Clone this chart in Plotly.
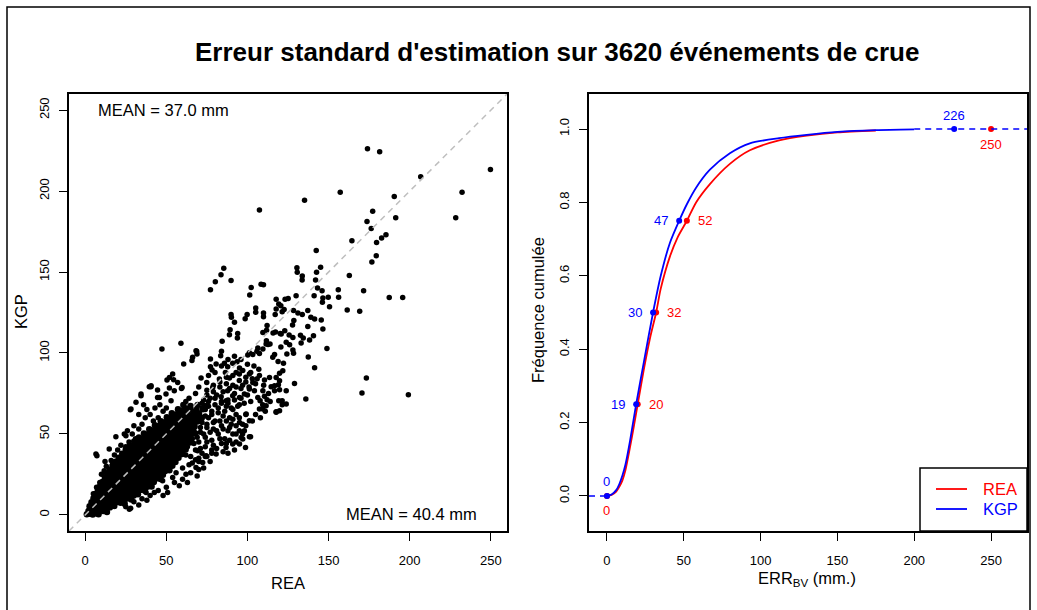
import plotly.graph_objects as go

W, H = 1037, 610
FONT = "Liberation Sans, Arial, sans-serif"

# ---------------- data ----------------
n_events = 3620
mean_kgp = 37.0
mean_rea = 40.4

# scatter (REA, KGP) in mm
scatter_outliers = [
    (174.0, 226.2), (181.5, 224.3), (249.8, 213.4), (206.8, 208.8), (157.2, 199.3),
    (232.3, 199.3), (190.5, 196.7), (135.2, 194.4), (107.4, 188.4), (177.2, 187.6),
    (173.7, 181.2), (191.4, 183.5), (228.4, 183.5), (176.3, 176.9), (164.4, 169.4),
    (185.4, 173.0), (182.7, 171.1), (179.6, 168.2), (142.4, 163.3), (179.4, 160.0),
    (176.7, 156.2), (162.8, 147.8), (171.6, 138.5), (187.4, 134.2), (195.7, 134.2),
    (173.3, 84.5), (170.6, 75.3), (199.2, 74.2), (161.5, 126.6), (169.2, 125.7),
    (156.0, 139.0), (156.2, 134.4), (150.6, 128.6), (149.0, 102.8), (141.4, 90.9),
    (129.0, 81.2), (136.0, 71.5),
]

scatter_mid = [
    (77.2, 139.0), (80.2, 144.0), (83.7, 148.4), (85.4, 152.3), (89.9, 144.7),
    (101.4, 135.8), (102.3, 140.4), (108.4, 142.4), (109.9, 142.2), (105.1, 125.1),
    (109.9, 122.3), (98.6, 121.2), (90.1, 122.0), (92.0, 119.0), (89.3, 114.4),
    (88.9, 111.3), (93.8, 109.3), (84.4, 107.2), (59.0, 106.0), (47.3, 102.5),
    (68.9, 99.4), (65.8, 95.4), (83.5, 98.3), (117.7, 133.2), (119.3, 130.3),
    (123.2, 133.2), (125.1, 133.6), (130.0, 135.4), (133.7, 145.1), (130.5, 152.6),
    (130.7, 149.9), (133.8, 147.6), (142.6, 149.9), (145.1, 152.9), (142.0, 145.1),
    (143.2, 140.2), (141.1, 135.4), (146.5, 134.0), (146.0, 138.5), (149.8, 134.4),
    (146.2, 131.4), (137.2, 126.2), (139.1, 122.0), (141.4, 121.0), (145.5, 120.4),
    (146.5, 114.8), (137.2, 116.3), (140.7, 110.7), (134.4, 109.3), (138.3, 108.0),
    (128.4, 126.3), (131.1, 124.7), (133.8, 123.7), (127.8, 117.3), (125.7, 111.1),
    (128.0, 109.6), (132.7, 110.9), (133.1, 106.2), (137.5, 97.5), (128.4, 99.8),
    (120.6, 103.7), (124.3, 99.4), (120.2, 112.1), (117.3, 113.0), (115.8, 112.4),
    (109.5, 112.6), (111.8, 114.0), (121.4, 125.4), (122.6, 126.8), (120.6, 129.1),
    (117.7, 127.2), (117.1, 123.7), (111.5, 105.6), (112.7, 105.2), (113.9, 105.6),
    (103.3, 99.0), (105.8, 101.0), (107.4, 99.6), (100.2, 98.7), (116.7, 99.0),
    (115.6, 97.3), (118.9, 94.8), (122.2, 93.6), (121.8, 89.0), (119.8, 87.4),
    (117.7, 84.9), (119.1, 80.4), (119.8, 77.3), (116.7, 76.7), (114.6, 79.2),
    (110.5, 73.2), (112.1, 71.1), (107.8, 70.5), (109.4, 68.0), (121.4, 68.0),
    (105.1, 127.8), (89.9, 123.7), (99.8, 123.7), (109.9, 124.7), (94.0, 112.1),
    (112.1, 116.9), (120.8, 111.7), (123.0, 113.8), (128.6, 120.0), (123.9, 106.6),
    (126.0, 105.1), (128.0, 101.8), (111.7, 107.6), (109.5, 102.5), (106.4, 103.1),
    (101.2, 100.2), (84.0, 101.0), (68.7, 101.0), (77.2, 96.3), (77.2, 91.5),
    (78.2, 89.5), (80.7, 93.2), (85.8, 93.6), (87.8, 91.5), (90.9, 93.6),
    (93.6, 94.6), (95.1, 90.7), (97.1, 89.1), (93.0, 88.0), (88.9, 84.5),
    (86.4, 88.0), (82.7, 83.9), (71.4, 84.5), (74.9, 81.8), (78.6, 78.7),
    (53.9, 87.0), (51.9, 84.9), (57.0, 81.8), (59.7, 78.7), (54.9, 76.7),
    (51.9, 78.4), (40.6, 79.8), (44.6, 77.1), (45.7, 72.5), (49.8, 74.6),
    (52.9, 70.5), (34.4, 74.6), (101.2, 87.0), (103.3, 81.8), (107.4, 86.0),
    (110.5, 83.3), (113.6, 84.9), (116.7, 79.8), (119.8, 82.9), (101.2, 77.7),
    (104.3, 76.7), (98.1, 74.6), (95.1, 72.5), (106.4, 72.5), (109.5, 76.7),
    (87.8, 76.7), (90.9, 73.6), (86.9, 70.5), (83.8, 73.0), (119.3, 70.5),
    (123.9, 68.5), (119.8, 64.3), (123.9, 76.7), (117.7, 63.3), (109.5, 65.4),
    (111.5, 67.4), (99.2, 62.3), (101.2, 58.1), (95.1, 57.1), (98.1, 51.9),
    (93.0, 49.9), (101.2, 48.2), (97.1, 46.8), (95.1, 43.7), (98.8, 41.6),
    (107.4, 65.4), (117.7, 63.7), (121.4, 70.5), (60.7, 93.2), (66.2, 97.3),
    (68.3, 101.4), (54.5, 83.5), (50.4, 83.3), (59.3, 78.1), (40.5, 79.2),
]

scatter_dense = [
    (57, 48), (59, 53), (61, 47), (63, 54), (65, 49), (67, 55), (69, 48), (71, 54), (73, 50),
    (75, 56), (77, 51), (79, 57), (81, 52), (83, 58), (85, 53), (87, 58), (89, 54), (91, 59),
    (93, 55), (95, 60), (97, 56), (99, 62), (66, 59), (68, 64), (70, 60), (72, 66), (74, 61),
    (76, 67), (78, 62), (80, 68), (82, 63), (84, 70), (86, 64), (88, 69), (90, 66), (92, 71),
    (94, 67), (96, 72), (98, 69), (100, 74), (102, 70), (73, 71), (75, 77), (77, 72), (79, 80),
    (81, 74), (83, 82), (85, 76), (87, 85), (89, 78), (91, 86), (93, 79), (95, 87), (97, 80),
    (99, 85), (101, 79), (103, 84), (105, 81), (107, 90), (104, 92), (100, 93), (96, 96),
    (92, 98), (88, 96), (84, 92), (80, 88), (76, 86), (63, 42), (67, 44), (71, 41), (75, 45),
    (79, 43), (83, 47), (87, 44), (91, 50), (95, 52), (99, 55), (103, 58), (105, 62), (108, 60),
    (111, 64), (114, 70), (113, 75), (110, 80), (106, 84), (102, 88),
    (64, 31), (68, 34), (72, 38), (77, 33), (81, 41), (85, 39), (89, 46), (93, 45), (97, 50),
    (60, 29), (56, 26), (69, 24), (73, 29), (62, 37), (58, 41),
]

scatter_fringe = [
    (7.2, 36.5), (6.6, 37.5), (14.8, 40.6), (18.9, 48.2), (25.1, 48.9), (24.1, 49.9),
    (27.8, 64.9), (31.3, 69.5), (34.4, 73.6), (28.2, 65.4), (39.5, 79.2), (44.6, 72.5),
    (16.9, 31.3), (11.7, 27.2), (10.0, 25.0), (13.0, 30.0), (16.0, 33.5), (12.2, 33.0),
    (18.0, 37.0), (20.0, 40.0), (22.0, 43.0), (24.0, 38.0), (27.0, 45.0), (29.0, 50.0),
    (31.0, 47.0), (33.0, 53.0), (35.0, 56.0), (37.0, 60.0), (40.0, 62.0), (42.0, 58.0),
    (30.0, 55.0), (26.0, 52.0), (38.0, 65.0), (43.0, 66.0), (46.0, 68.0), (48.0, 64.0),
    (45.0, 60.0), (22.0, 35.0), (18.0, 30.0), (15.0, 27.0), (9.0, 20.0), (7.0, 17.0),
    (5.0, 13.0), (25.0, 42.0), (28.0, 40.0), (33.0, 62.0), (36.0, 68.0), (50.0, 66.0),
    (25.0, 5.0), (30.0, 8.0), (35.0, 10.0), (40.0, 12.0), (45.0, 15.0), (50.0, 17.0),
    (55.0, 20.0), (60.0, 22.0), (65.0, 26.0), (33.0, 6.0), (28.0, 4.0), (38.0, 9.0),
    (48.0, 12.0), (58.0, 18.0), (63.0, 20.0), (70.0, 28.0), (66.0, 32.0), (74.0, 36.0),
    (78.0, 38.0), (70.0, 33.0), (42.6, 13.8), (50.8, 13.8), (37.5, 13.8), (53.9, 23.0),
    (47.7, 21.0), (62.1, 25.1), (68.3, 29.3), (27.2, 3.5), (12.8, 3.5), (69.3, 39.6),
    (80.7, 37.5), (72.4, 32.3), (74.5, 36.5), (86.8, 41.6), (90.9, 43.7), (96.1, 47.8),
    (101.9, 48.2), (58.0, 46.0), (62.0, 44.0), (66.0, 47.0), (70.0, 45.0), (74.0, 48.0),
    (78.0, 46.0), (82.0, 50.0), (86.0, 47.0), (63.0, 50.0), (67.0, 52.0), (71.0, 51.0),
    (75.0, 54.0), (79.0, 53.0), (84.0, 55.0), (88.0, 52.0), (90.0, 56.0), (60.0, 55.0),
    (64.0, 57.0), (68.0, 58.0), (72.0, 57.0), (76.0, 60.0), (80.0, 58.0), (85.0, 61.0),
    (89.0, 60.0), (93.0, 62.0), (66.0, 62.0), (70.0, 63.0), (74.0, 65.0), (78.0, 64.0),
    (82.0, 66.0), (87.0, 67.0), (91.0, 65.0), (95.0, 68.0), (72.0, 69.0), (76.0, 70.0),
    (80.0, 72.0), (84.0, 69.0), (88.0, 71.0), (92.0, 75.0), (96.0, 78.0), (79.0, 76.0),
    (83.0, 79.0), (87.0, 81.0), (91.0, 80.0), (95.0, 83.0), (99.0, 82.0), (62.0, 66.0),
    (58.0, 62.0), (56.0, 52.0), (60.0, 50.0), (68.0, 40.0), (74.0, 42.0), (78.0, 40.0),
    (84.0, 44.0), (88.0, 38.0), (92.0, 40.0), (65.0, 36.0), (70.0, 35.0), (75.0, 36.0),
    (61.0, 40.0), (64.0, 72.0), (68.0, 75.0), (70.0, 79.0), (75.0, 74.0), (62.0, 70.0),
]

scatter_core = [
    (1.0, 0.3), (2.8, 0.6), (4.6, 0.2), (6.5, 0.9), (8.2, 0.4),
    (2.0, 2.4), (4.1, 2.9), (6.3, 2.1), (8.7, 2.7), (11.0, 2.3), (13.4, 1.8),
    (2.7, 5.3), (5.2, 4.8), (7.6, 5.4), (10.1, 4.7), (12.6, 5.2), (15.2, 4.6), (17.9, 5.5),
    (3.9, 7.8), (6.4, 7.2), (8.9, 7.9), (11.4, 7.3), (13.8, 7.7), (16.5, 7.1), (19.1, 7.8),
    (21.8, 7.4), (24.3, 6.9),
    (5.1, 10.3), (7.7, 9.8), (10.3, 10.4), (12.8, 9.7), (15.4, 10.2), (18.0, 9.6), (20.6, 10.3),
    (23.1, 9.9), (25.8, 10.1), (28.4, 9.5),
    (6.3, 12.8), (8.9, 12.2), (11.6, 12.9), (14.2, 12.3), (16.7, 12.7), (19.3, 12.1), (21.9, 12.8),
    (24.6, 12.4), (27.2, 12.6), (29.9, 12.0), (32.5, 12.7),
    (7.8, 15.3), (10.4, 14.8), (13.1, 15.4), (15.7, 14.7), (18.3, 15.2), (20.9, 14.9), (23.6, 15.5),
    (26.2, 14.8), (28.8, 15.1), (31.5, 14.6), (34.1, 15.3), (36.8, 14.9),
    (9.2, 17.8), (11.9, 17.2), (14.5, 17.9), (17.1, 17.3), (19.8, 17.7), (22.4, 17.1), (25.0, 17.8),
    (27.7, 17.4), (30.3, 17.6), (33.0, 17.0), (35.6, 17.7), (38.3, 17.3), (40.9, 17.5),
    (10.6, 20.3), (13.3, 19.8), (15.9, 20.4), (18.6, 19.7), (21.2, 20.2), (23.8, 19.9), (26.5, 20.5),
    (29.1, 19.8), (31.8, 20.1), (34.4, 19.6), (37.0, 20.3), (39.7, 19.9), (42.3, 20.2),
    (12.1, 22.8), (14.7, 22.2), (17.4, 22.9), (20.0, 22.3), (22.6, 22.7), (25.3, 22.1), (27.9, 22.8),
    (30.6, 22.4), (33.2, 22.6), (35.8, 22.0), (38.5, 22.7), (41.1, 22.3), (43.8, 22.5), (46.4, 22.1),
    (13.5, 25.3), (16.2, 24.8), (18.8, 25.4), (21.4, 24.7), (24.1, 25.2), (26.7, 24.9), (29.4, 25.5),
    (32.0, 24.8), (34.6, 25.1), (37.3, 24.6), (39.9, 25.3), (42.6, 24.9), (45.2, 25.2), (47.9, 24.7),
    (15.0, 27.8), (17.6, 27.2), (20.3, 27.9), (22.9, 27.3), (25.5, 27.7), (28.2, 27.1), (30.8, 27.8),
    (33.5, 27.4), (36.1, 27.6), (38.7, 27.0), (41.4, 27.7), (44.0, 27.3), (46.7, 27.5), (49.3, 27.1),
    (51.9, 27.6),
    (16.8, 30.3), (19.4, 29.8), (22.1, 30.4), (24.7, 29.7), (27.3, 30.2), (30.0, 29.9), (32.6, 30.5),
    (35.3, 29.8), (37.9, 30.1), (40.5, 29.6), (43.2, 30.3), (45.8, 29.9), (48.5, 30.2), (51.1, 29.7),
    (53.7, 30.3),
    (18.7, 32.8), (21.3, 32.2), (24.0, 32.9), (26.6, 32.3), (29.2, 32.7), (31.9, 32.1), (34.5, 32.8),
    (37.2, 32.4), (39.8, 32.6), (42.4, 32.0), (45.1, 32.7), (47.7, 32.3), (50.4, 32.5), (53.0, 32.1),
    (55.6, 32.6),
    (20.6, 35.3), (23.2, 34.8), (25.9, 35.4), (28.5, 34.7), (31.1, 35.2), (33.8, 34.9), (36.4, 35.5),
    (39.1, 34.8), (41.7, 35.1), (44.3, 34.6), (47.0, 35.3), (49.6, 34.9), (52.3, 35.2), (54.9, 34.7),
    (57.5, 35.3),
    (22.8, 37.8), (25.4, 37.2), (28.1, 37.9), (30.7, 37.3), (33.3, 37.7), (36.0, 37.1), (38.6, 37.8),
    (41.3, 37.4), (43.9, 37.6), (46.5, 37.0), (49.2, 37.7), (51.8, 37.3), (54.5, 37.5), (57.1, 37.1),
    (59.7, 37.6),
    (25.0, 40.3), (27.6, 39.8), (30.3, 40.4), (32.9, 39.7), (35.5, 40.2), (38.2, 39.9), (40.8, 40.5),
    (43.5, 39.8), (46.1, 40.1), (48.7, 39.6), (51.4, 40.3), (54.0, 39.9), (56.7, 40.2), (59.3, 39.7),
    (61.9, 40.3),
    (27.5, 42.8), (30.1, 42.2), (32.8, 42.9), (35.4, 42.3), (38.0, 42.7), (40.7, 42.1), (43.3, 42.8),
    (46.0, 42.4), (48.6, 42.6), (51.2, 42.0), (53.9, 42.7), (56.5, 42.3), (59.2, 42.5), (61.8, 42.1),
    (30.2, 45.3), (32.8, 44.8), (35.5, 45.4), (38.1, 44.7), (40.7, 45.2), (43.4, 44.9), (46.0, 45.5),
    (48.7, 44.8), (51.3, 45.1), (53.9, 44.6), (56.6, 45.3), (59.2, 44.9), (61.9, 45.2), (64.5, 44.7),
    (33.1, 47.8), (35.7, 47.2), (38.4, 47.9), (41.0, 47.3), (43.6, 47.7), (46.3, 47.1), (48.9, 47.8),
    (51.6, 47.4), (54.2, 47.6), (56.8, 47.0), (59.5, 47.7), (62.1, 47.3), (64.8, 47.5),
    (36.2, 50.3), (38.8, 49.8), (41.5, 50.4), (44.1, 49.7), (46.7, 50.2), (49.4, 49.9), (52.0, 50.5),
    (54.7, 49.8), (57.3, 50.1), (59.9, 49.6), (62.6, 50.3), (65.2, 49.9), (67.9, 50.2),
    (39.5, 52.8), (42.1, 52.2), (44.8, 52.9), (47.4, 52.3), (50.0, 52.7), (52.7, 52.1), (55.3, 52.8),
    (58.0, 52.4), (60.6, 52.6), (63.2, 52.0), (66.1, 52.7),
    (43.0, 55.3), (45.6, 54.8), (48.3, 55.4), (50.9, 54.7), (53.5, 55.2), (56.2, 54.9), (58.8, 55.5),
    (61.5, 54.8), (64.3, 55.1), (67.4, 54.6),
    (46.6, 57.8), (49.2, 57.2), (51.9, 57.9), (54.5, 57.3), (57.1, 57.7), (59.8, 57.1), (62.6, 57.8),
    (65.7, 57.4), (69.1, 57.6),
    (50.3, 60.3), (53.1, 59.8), (55.8, 60.4), (58.6, 59.7), (61.5, 60.2), (64.6, 59.9), (68.0, 60.5),
    (71.8, 59.8),
    (53.4, 62.8), (56.5, 62.2), (59.7, 62.9), (63.0, 62.3), (66.6, 62.7), (70.2, 62.1),
    (57.2, 65.3), (60.8, 64.8), (64.5, 65.4), (68.4, 64.7), (72.5, 65.2),
    (60.5, 67.8), (64.9, 67.2), (69.3, 67.9), (74.0, 67.3),
]

# cumulative frequency curves
cdf_rea_err = [0, 3, 6, 8, 10, 12, 15, 17.5, 20, 24, 28, 32, 35, 41, 46, 52, 58, 67,
               80, 93, 112, 130, 150, 175]
cdf_rea_freq = [0, 0.003, 0.012, 0.025, 0.042, 0.07, 0.133, 0.19, 0.25, 0.345, 0.43, 0.5,
                0.565, 0.653, 0.705, 0.75, 0.80, 0.85, 0.905, 0.942, 0.969, 0.982, 0.991, 0.996]
cdf_kgp_err = [0, 3, 6, 8, 10, 12, 15, 19, 24, 30, 35, 41, 47, 52, 58, 67, 80, 93, 112,
               130, 150, 175, 200]
cdf_kgp_freq = [0, 0.004, 0.016, 0.032, 0.055, 0.085, 0.15, 0.25, 0.365, 0.5, 0.6, 0.69,
                0.75, 0.795, 0.84, 0.889, 0.934, 0.961, 0.975, 0.984, 0.992, 0.997, 0.999]

quant_levels = [0, 0.25, 0.5, 0.75, 1.0]
quant_rea = [0, 20, 32, 52, 250]
quant_kgp = [0, 19, 30, 47, 226]

scatter_ticks = [0, 50, 100, 150, 200, 250]
err_ticks = [0, 50, 100, 150, 200, 250]
freq_ticks = [0.0, 0.2, 0.4, 0.6, 0.8, 1.0]

RED, BLUE = "#FF0000", "#0000FF"


def fx(p):
    return p / W


def fy(p):
    return 1 - p / H


fig = go.Figure()
# dense core drawn with slightly bigger dots so it reads as a solid cloud
fig.add_trace(go.Scatter(x=[p[0] for p in scatter_core], y=[p[1] for p in scatter_core],
                         mode="markers", marker=dict(color="black", size=6.5, line=dict(width=0)),
                         xaxis="x", yaxis="y", hoverinfo="skip"))
others = scatter_dense + scatter_fringe + scatter_mid + scatter_outliers
fig.add_trace(go.Scatter(x=[p[0] for p in others], y=[p[1] for p in others],
                         mode="markers", marker=dict(color="black", size=5.5, line=dict(width=0)),
                         xaxis="x", yaxis="y", hoverinfo="skip"))

x2_range = [-11.7, 273.4]
y2_range = [-0.0954, 1.0954]
curve = dict(width=1.8, shape="spline", smoothing=0.7)

# REA curve
fig.add_trace(go.Scatter(x=cdf_rea_err, y=cdf_rea_freq, mode="lines",
                         line=dict(color=RED, **curve), xaxis="x2", yaxis="y2"))
fig.add_trace(go.Scatter(x=quant_rea, y=quant_levels, mode="markers",
                         marker=dict(color=RED, size=6), xaxis="x2", yaxis="y2"))
# KGP curve
fig.add_trace(go.Scatter(x=cdf_kgp_err, y=cdf_kgp_freq, mode="lines",
                         line=dict(color=BLUE, **curve), xaxis="x2", yaxis="y2"))
fig.add_trace(go.Scatter(x=[x2_range[0], quant_kgp[0]], y=[quant_levels[0]] * 2, mode="lines",
                         line=dict(color=BLUE, width=1.5, dash="6px,5px"), xaxis="x2", yaxis="y2"))
fig.add_trace(go.Scatter(x=[cdf_kgp_err[-1], x2_range[1]], y=[quant_levels[-1]] * 2, mode="lines",
                         line=dict(color=BLUE, width=1.5, dash="6px,5px"), xaxis="x2", yaxis="y2"))
fig.add_trace(go.Scatter(x=quant_kgp, y=quant_levels, mode="markers",
                         marker=dict(color=BLUE, size=6), xaxis="x2", yaxis="y2"))

axis_common = dict(showgrid=False, zeroline=False, showline=True, mirror=True,
                   linecolor="black", linewidth=1.5, ticks="outside", ticklen=8,
                   tickwidth=1.2, tickcolor="black",
                   tickfont=dict(family=FONT, size=13, color="black"))
x_axis_style = dict(axis_common, ticklabelstandoff=9)
y_axis_style = dict(axis_common, ticklabelstandoff=5, tickangle=-90)

fig.update_layout(
    width=W, height=H,
    margin=dict(l=0, r=0, t=0, b=0),
    paper_bgcolor="white", plot_bgcolor="white",
    showlegend=False,
    font=dict(family=FONT, color="black"),
    xaxis=dict(domain=[fx(69), fx(507)], range=[-10, 260], anchor="y",
               tickvals=scatter_ticks, **x_axis_style),
    yaxis=dict(domain=[fy(531), fy(94)], range=[-10, 260], anchor="x",
               tickvals=scatter_ticks, **y_axis_style),
    xaxis2=dict(domain=[fx(589), fx(1027)], range=x2_range, anchor="y2",
                tickvals=err_ticks, **x_axis_style),
    yaxis2=dict(domain=[fy(531), fy(94)], range=y2_range, anchor="x2",
                tickvals=freq_ticks, ticktext=[f"{v:.1f}" for v in freq_ticks],
                **y_axis_style),
)

shapes = [
    # outer frame
    dict(type="rect", xref="paper", yref="paper", x0=fx(7), x1=fx(1030), y0=fy(640), y1=fy(7),
         line=dict(color="black", width=1.5)),
    # 1:1 line
    dict(type="line", xref="x", yref="y", x0=-10, y0=-10, x1=260, y1=260,
         line=dict(color="#BEBEBE", width=1.5, dash="6px,5px")),
    # legend box
    dict(type="rect", xref="paper", yref="paper", x0=fx(920), x1=fx(1027), y0=fy(531), y1=fy(468),
         line=dict(color="black", width=1.5), fillcolor="white"),
    dict(type="line", xref="paper", yref="paper", x0=fx(936), x1=fx(967), y0=fy(489), y1=fy(489),
         line=dict(color=RED, width=1.8)),
    dict(type="line", xref="paper", yref="paper", x0=fx(936), x1=fx(967), y0=fy(509), y1=fy(509),
         line=dict(color=BLUE, width=1.8)),
]
fig.update_layout(shapes=shapes)

txt = dict(family=FONT, size=16.5, color="black")
num = dict(family=FONT, size=13)
ann = [
    dict(text=f"<b>Erreur standard d'estimation sur {n_events} événements de crue</b>",
         x=fx(557), y=fy(52), font=dict(family=FONT, size=26, color="black")),
    dict(text="REA", x=fx(288), y=fy(583), font=txt),
    dict(text="KGP", x=fx(21), y=fy(312), textangle=-90, font=txt),
    dict(text="Fréquence cumulée", x=fx(538), y=fy(310), textangle=-90, font=txt),
    dict(text="ERR<sub>BV</sub> (mm.)", x=fx(807), y=fy(579), font=txt),
    dict(text=f"MEAN = {mean_kgp:.1f} mm", x=fx(96), y=fy(110), xanchor="left", font=txt),
    dict(text=f"MEAN = {mean_rea:.1f} mm", x=fx(479), y=fy(514), xanchor="right", font=txt),
    dict(text="REA", x=fx(981), y=fy(489), xanchor="left", font=dict(family=FONT, size=16.5, color=RED)),
    dict(text="KGP", x=fx(981), y=fy(509), xanchor="left", font=dict(family=FONT, size=16.5, color=BLUE)),
]
for a in ann:
    a.setdefault("xref", "paper")
    a.setdefault("yref", "paper")
    a.setdefault("xanchor", "center")
    a.setdefault("yanchor", "middle")
    a["showarrow"] = False

for i, (q, lev) in enumerate(zip(quant_kgp, quant_levels)):
    end = i in (0, len(quant_levels) - 1)
    ann.append(dict(text=str(q), x=q, y=lev, xref="x2", yref="y2", showarrow=False,
                    xanchor="center", yanchor="middle",
                    xshift=0 if end else -18, yshift=14 if end else 0,
                    font=dict(color=BLUE, **num)))
for i, (q, lev) in enumerate(zip(quant_rea, quant_levels)):
    end = i in (0, len(quant_levels) - 1)
    ann.append(dict(text=str(q), x=q, y=lev, xref="x2", yref="y2", showarrow=False,
                    xanchor="center", yanchor="middle",
                    xshift=0 if end else 18, yshift=-15 if end else 0,
                    font=dict(color=RED, **num)))
fig.update_layout(annotations=ann)

fig.write_html("out.html", config={"displayModeBar": False},
               post_script="document.body.style.margin='0';")
